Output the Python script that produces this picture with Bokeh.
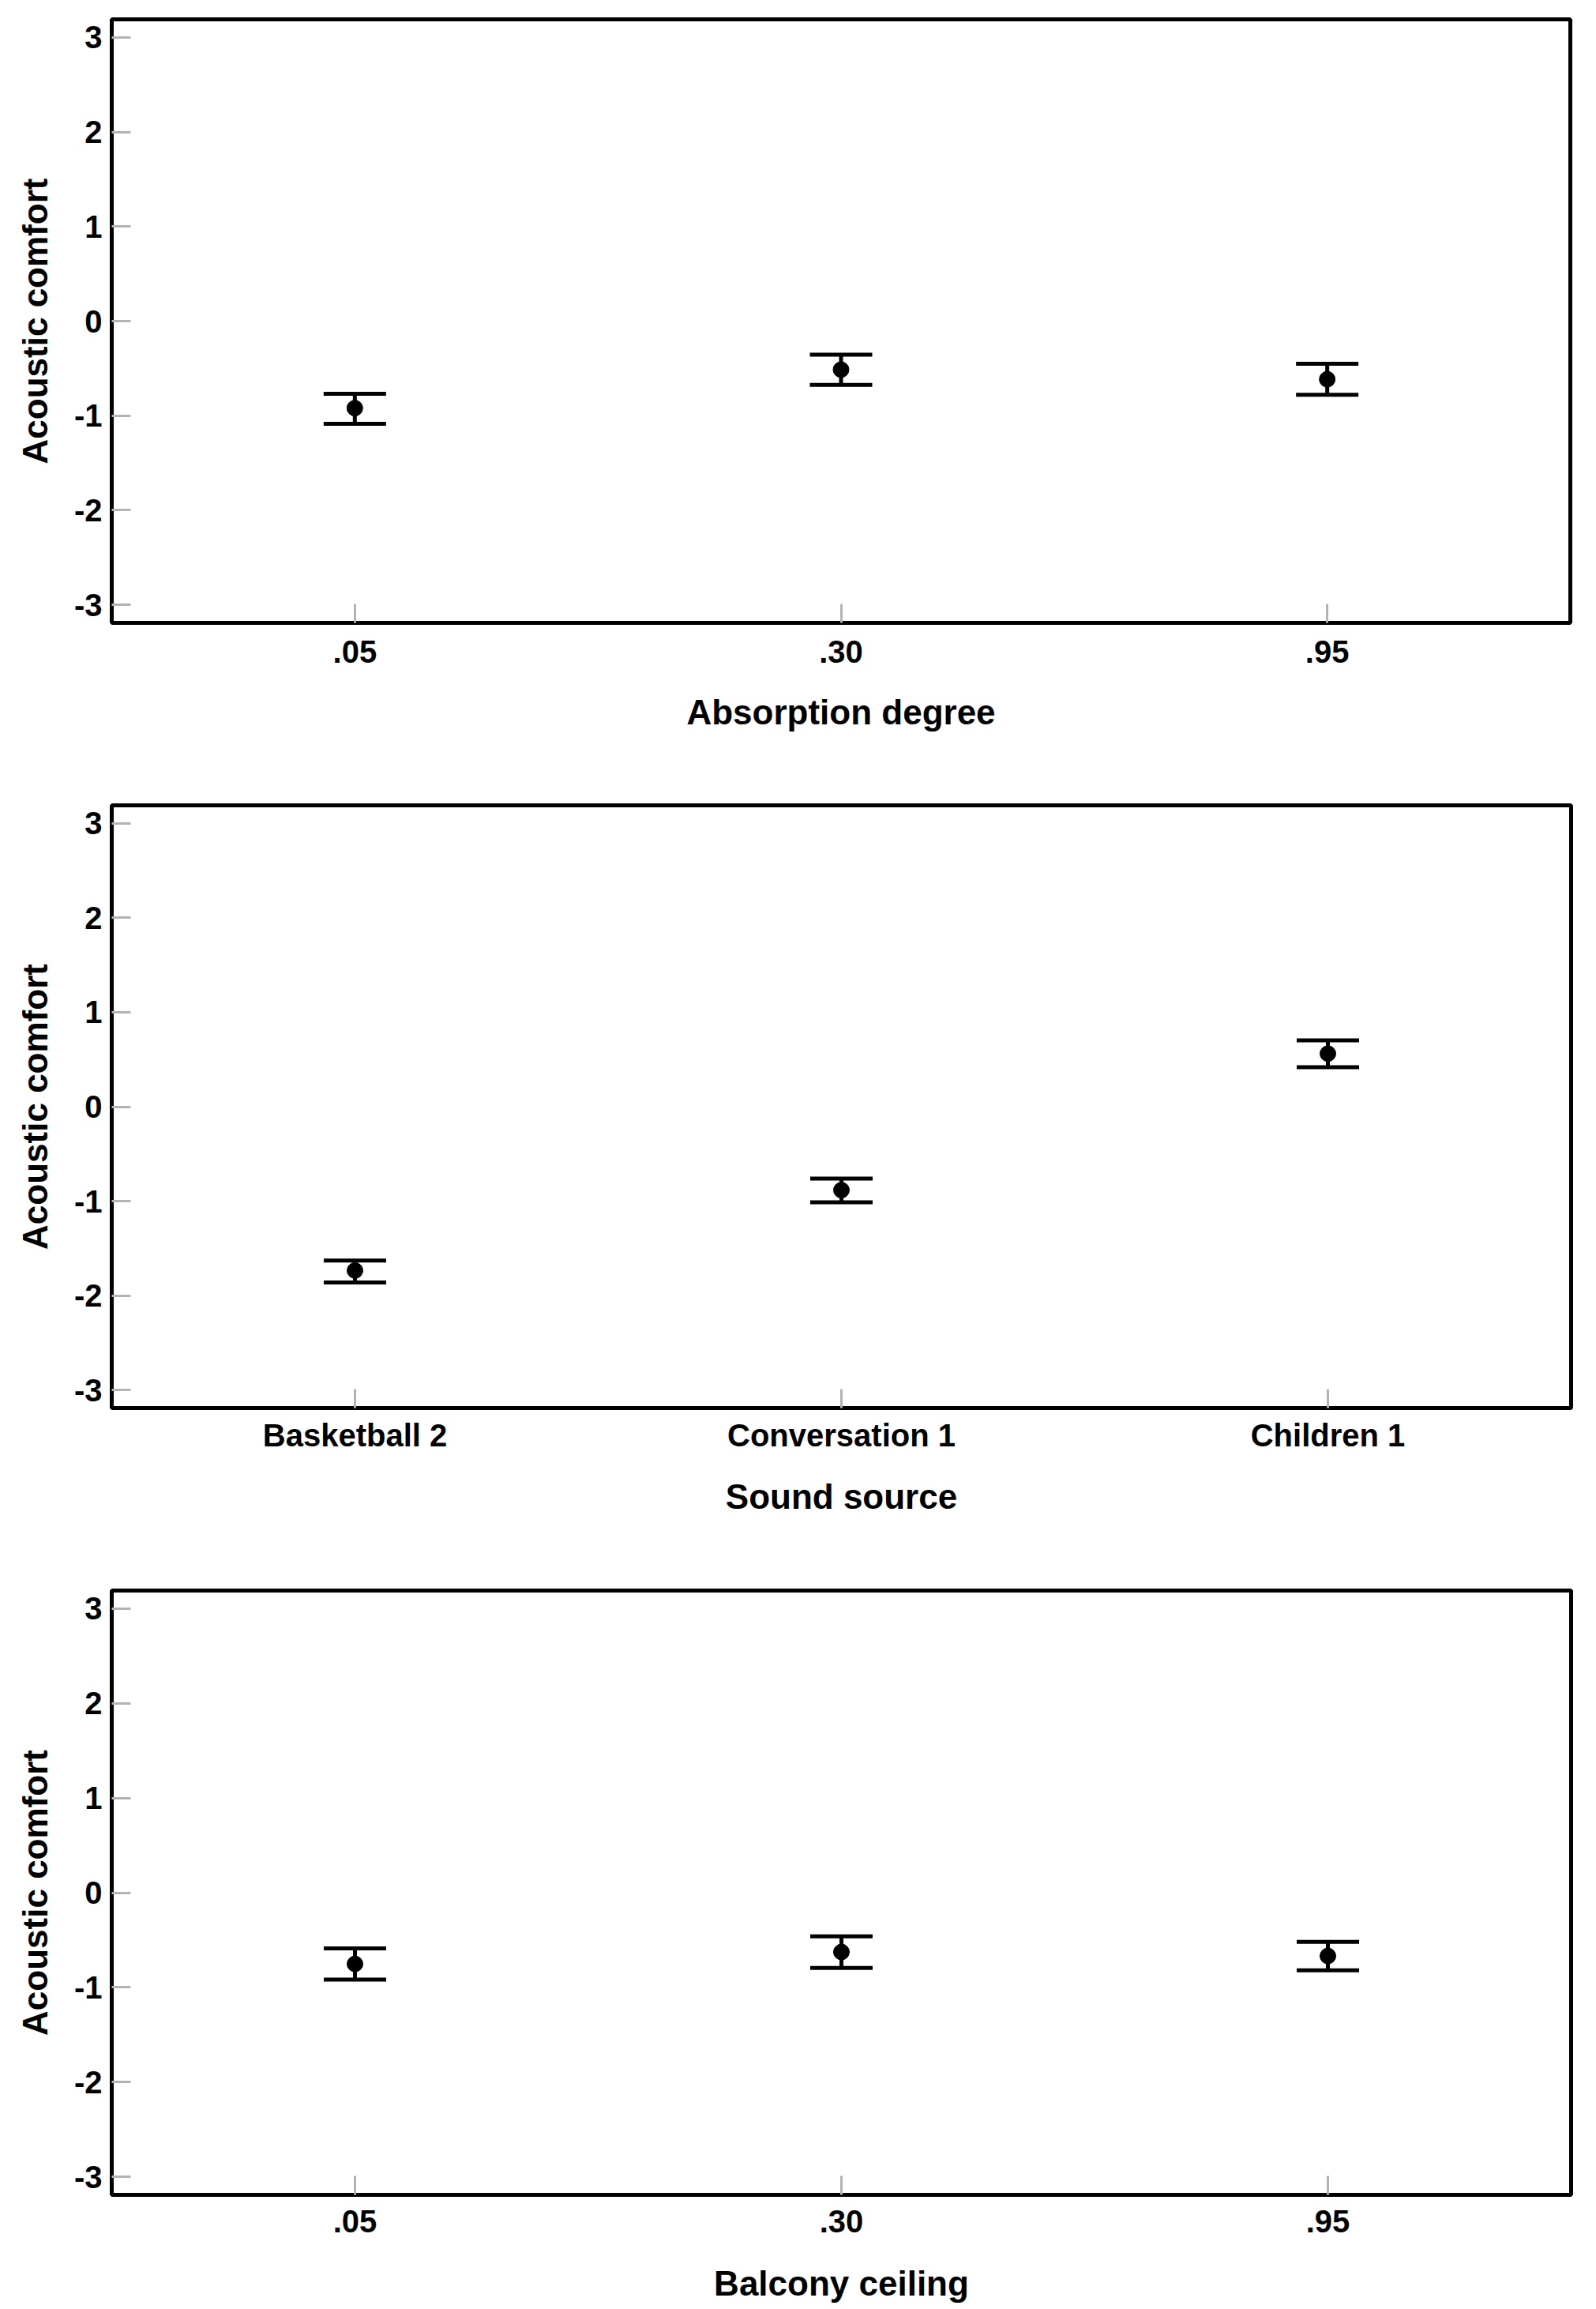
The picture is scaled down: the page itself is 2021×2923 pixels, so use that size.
from bokeh.plotting import figure
from bokeh.models import ColumnDataSource, Whisker, TeeHead, Range1d, FixedTicker
from bokeh.layouts import column
from bokeh.embed import file_html
from bokeh.resources import INLINE

# ---------------- data ----------------
absorption_cats = [".05", ".30", ".95"]
absorption_mean = [-0.92, -0.513, -0.615]
absorption_lower = [-1.085, -0.674, -0.779]
absorption_upper = [-0.768, -0.354, -0.451]

source_cats = ["Basketball 2", "Conversation 1", "Children 1"]
source_mean = [-1.734, -0.883, 0.562]
source_lower = [-1.861, -1.011, 0.419]
source_upper = [-1.628, -0.760, 0.702]

balcony_cats = [".05", ".30", ".95"]
balcony_mean = [-0.752, -0.626, -0.668]
balcony_lower = [-0.918, -0.795, -0.820]
balcony_upper = [-0.587, -0.461, -0.520]

y_ticks = [-3, -2, -1, 0, 1, 2, 3]
y_tick_labels = ["-3", "-2", "-1", "0", "1", "2", "3"]

FONT = "Liberation Sans"
TICK_GRAY = "#b3b3b3"


def make_panel(cats, mean, lower, upper, xlabel, frame_w, frame_h, left, right, top, bottom,
               xtick_size="40px", xtick_standoff=21, xlabel_standoff=35):
    src = ColumnDataSource(dict(x=cats, mean=mean, lower=lower, upper=upper))
    p = figure(x_range=cats, y_range=Range1d(-3.19, 3.19),
               frame_width=frame_w, frame_height=frame_h,
               output_backend="svg", toolbar_location=None, tools="",
               min_border_left=left, min_border_right=right,
               min_border_top=top, min_border_bottom=bottom,
               background_fill_color="white", border_fill_color="white")
    p.outline_line_color = "black"
    p.outline_line_width = 5
    p.outline_line_alpha = 1.0
    p.xgrid.visible = False
    p.ygrid.visible = False

    w = Whisker(base="x", upper="upper", lower="lower", source=src,
                dimension="height", line_color="black", line_width=5,
                upper_head=TeeHead(size=79, line_width=5, line_color="black"),
                lower_head=TeeHead(size=79, line_width=5, line_color="black"))
    p.add_layout(w)
    p.scatter(x="x", y="mean", source=src, size=20, marker="circle",
              fill_color="black", line_color="black")

    # y axis
    ya = p.yaxis[0]
    ya.ticker = FixedTicker(ticks=y_ticks)
    ya.major_label_overrides = {t: s for t, s in zip(y_ticks, y_tick_labels)}
    ya.axis_label = "Acoustic comfort"
    ya.axis_line_color = None
    ya.major_tick_in = 24
    ya.major_tick_out = 0
    ya.major_tick_line_color = TICK_GRAY
    ya.major_tick_line_width = 3
    ya.minor_tick_line_color = None
    ya.major_label_standoff = 12
    ya.major_label_text_font = FONT
    ya.major_label_text_font_style = "bold"
    ya.major_label_text_font_size = "40px"
    ya.major_label_text_color = "black"
    ya.axis_label_text_font = FONT
    ya.axis_label_text_font_style = "bold"
    ya.axis_label_text_font_size = "44px"
    ya.axis_label_text_color = "black"
    ya.axis_label_standoff = 22

    # x axis
    xa = p.xaxis[0]
    xa.axis_label = xlabel
    xa.axis_line_color = None
    xa.major_tick_in = 24
    xa.major_tick_out = 0
    xa.major_tick_line_color = TICK_GRAY
    xa.major_tick_line_width = 3
    xa.major_label_standoff = xtick_standoff
    xa.major_label_text_font = FONT
    xa.major_label_text_font_style = "bold"
    xa.major_label_text_font_size = xtick_size
    xa.major_label_text_color = "black"
    xa.axis_label_text_font = FONT
    xa.axis_label_text_font_style = "bold"
    xa.axis_label_text_font_size = "44px"
    xa.axis_label_text_color = "black"
    xa.axis_label_standoff = xlabel_standoff
    return p


p1 = make_panel(absorption_cats, absorption_mean, absorption_lower, absorption_upper,
                "Absorption degree", 1847, 764, left=141, right=25, top=24, bottom=215,
                xtick_standoff=22, xlabel_standoff=35)
p2 = make_panel(source_cats, source_mean, source_lower, source_upper,
                "Sound source", 1848, 763, left=141, right=24, top=16, bottom=216,
                xtick_standoff=12, xlabel_standoff=28)
p3 = make_panel(balcony_cats, balcony_mean, balcony_lower, balcony_upper,
                "Balcony ceiling", 1848, 765, left=130, right=35, top=15, bottom=135,
                xtick_standoff=19, xlabel_standoff=37)

layout = column(p1, p2, p3, spacing=0)

with open("out.html", "w") as f:
    f.write(file_html(layout, INLINE))
